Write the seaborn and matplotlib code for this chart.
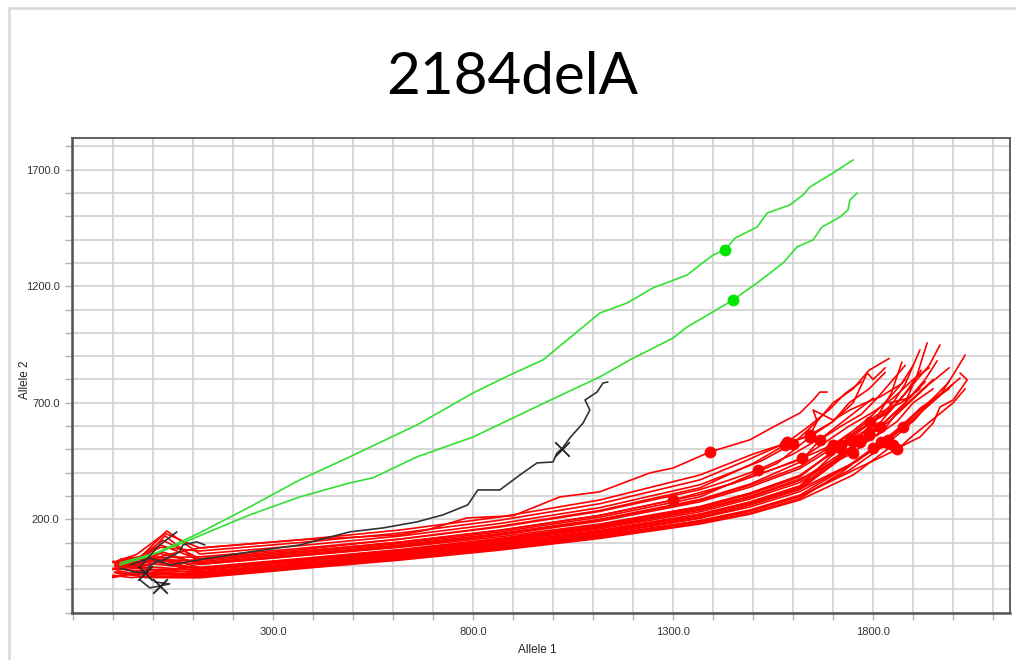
import matplotlib
matplotlib.use("Agg")
import matplotlib.pyplot as plt
import numpy as np
import pandas as pd
import seaborn as sns
from matplotlib.ticker import FixedLocator, FuncFormatter
from matplotlib.lines import Line2D

# ---------------- data ----------------
title = "2184delA"
x_label = "Allele 1"
y_label = "Allele 2"
x_tick_labels = [300, 800, 1300, 1800]
y_tick_labels = [200, 700, 1200, 1700]

red_x = [
    [-80, -20, 40, 117, 367, 617, 685, 785, 900, 1017, 1117, 1242, 1300, 1392, 1492, 1550, 1617, 1650, 1667, 1685],
    [-100, -60, -20, 117, 367, 617, 867, 1117, 1367, 1492, 1617, 1750, 1850, 1867, 1917, 1950, 1967, 2000, 2035, 2017],
    [-95, -50, 0, 117, 367, 617, 867, 1117, 1367, 1492, 1617, 1740, 1837, 1880, 1910, 1940, 1985, 2017],
    [-90, -40, 10, 117, 367, 617, 867, 1117, 1367, 1492, 1617, 1760, 1875, 1900, 1930, 1970, 2000, 2030],
    [-85, -30, 20, 117, 367, 617, 867, 1117, 1367, 1492, 1617, 1720, 1817, 1850, 1880, 1910, 1935],
    [-100, -45, 5, 117, 367, 617, 867, 1117, 1367, 1492, 1617, 1700, 1792, 1830, 1870, 1900, 1940, 1967],
    [-90, -50, 0, 117, 367, 617, 867, 1117, 1367, 1492, 1617, 1700, 1767, 1810, 1850, 1840, 1890, 1930, 1960],
    [-95, -55, -5, 117, 367, 617, 867, 1117, 1367, 1492, 1617, 1750, 1790, 1830, 1860, 1900, 1950],
    [-85, -40, 15, 117, 367, 617, 867, 1117, 1367, 1492, 1617, 1742, 1780, 1820, 1850, 1880, 1917],
    [-90, -35, 25, 117, 367, 617, 867, 1117, 1367, 1492, 1617, 1717, 1770, 1810, 1845, 1872],
    [-100, -50, 10, 117, 367, 617, 867, 1117, 1367, 1492, 1617, 1692, 1750, 1800, 1840, 1880, 1920],
    [-80, -30, 30, 117, 367, 617, 867, 1117, 1367, 1492, 1617, 1667, 1720, 1770, 1810, 1850, 1880],
    [-95, -45, 5, 117, 367, 617, 867, 1117, 1367, 1560, 1642, 1700, 1750, 1785, 1800, 1830],
    [-90, -40, 20, 117, 367, 617, 867, 1117, 1367, 1550, 1622, 1680, 1740, 1800, 1850, 1900, 1940],
    [-85, -35, 25, 117, 367, 617, 867, 1117, 1367, 1500, 1580, 1640, 1700, 1740, 1790, 1830],
    [-100, -60, 0, 117, 367, 617, 867, 1117, 1367, 1440, 1512, 1600, 1680, 1740, 1800],
    [-95, -50, 0, 117, 367, 617, 867, 1117, 1300, 1450, 1600, 1700, 1780, 1850, 1900],
    [-100, -55, -10, 117, 367, 617, 867, 1117, 1367, 1492, 1617, 1720, 1800, 1850, 1900, 1950, 1990],
    [-80, -30, 35, 117, 367, 617, 867, 1117, 1367, 1520, 1600, 1660, 1700, 1750, 1790, 1840],
    [-85, -40, 20, 117, 367, 617, 867, 1117, 1367, 1480, 1585, 1640, 1690, 1730, 1770],
    [-90, -40, 30, 117, 367, 617, 867, 1117, 1367, 1500, 1642, 1660, 1650, 1700, 1742, 1785, 1817, 1870, 1900],
    [-95, -45, 5, 117, 367, 617, 867, 1117, 1367, 1492, 1617, 1740, 1837, 1880, 1920, 1960, 2000],
    [-100, -50, 0, 117, 367, 617, 867, 1117, 1367, 1492, 1617, 1767, 1810, 1860, 1900, 1950],
    [-90, -40, 10, 117, 367, 617, 867, 1117, 1367, 1492, 1617, 1720, 1770, 1820, 1870, 1917],
    [-100, -50, 0, 117, 367, 617, 867, 1117, 1367, 1492, 1617, 1750, 1860, 1900, 1950, 2000, 2030],
    [-85, -45, 15, 117, 367, 617, 867, 1117, 1367, 1492, 1617, 1700, 1750, 1800, 1840, 1880],
    [-95, -55, -5, 117, 367, 617, 867, 1117, 1367, 1492, 1617, 1700, 1790, 1840, 1890, 1940, 1990],
    [-100, -70, -30, 117, 367, 617, 867, 1117, 1367, 1492, 1617, 1730, 1820, 1870, 1920, 1990],
    [-90, -45, 10, 117, 367, 617, 867, 1117, 1367, 1492, 1617, 1710, 1790, 1830, 1880, 1930],
]
red_y = [
    [0, 20, 50, 77, 112, 133, 154, 206, 215, 296, 318, 399, 420, 489, 541, 596, 656, 712, 746, 746],
    [-45, -35, -50, -51, -12, 25, 68, 118, 180, 222, 283, 390, 519, 510, 553, 613, 682, 712, 798, 828],
    [-30, -40, -35, -45, -6, 31, 75, 126, 190, 235, 298, 410, 528, 590, 640, 700, 760, 806],
    [-20, -35, -25, -38, 0, 38, 82, 134, 205, 262, 330, 450, 596, 620, 680, 740, 820, 905],
    [-10, -25, -15, -32, 7, 44, 89, 143, 211, 261, 328, 460, 596, 650, 700, 820, 957],
    [-15, -5, -20, -25, 13, 51, 96, 151, 222, 274, 343, 480, 618, 650, 720, 780, 860, 948],
    [0, -10, -5, -19, 19, 57, 104, 159, 232, 287, 358, 450, 541, 600, 680, 700, 720, 800, 880],
    [5, -5, 10, -13, 25, 64, 111, 168, 243, 299, 373, 485, 540, 590, 660, 720, 800],
    [10, 0, 40, -6, 31, 70, 118, 176, 253, 312, 388, 541, 580, 650, 700, 780, 927],
    [15, 5, 60, 7, 44, 80, 125, 180, 255, 312, 388, 506, 560, 640, 740, 875],
    [20, 10, 25, 7, 44, 83, 132, 192, 275, 338, 418, 498, 560, 620, 660, 740, 840],
    [25, 15, 130, 13, 50, 90, 139, 200, 285, 351, 445, 541, 600, 650, 720, 800, 860],
    [10, 25, 30, 19, 56, 96, 146, 209, 296, 440, 553, 620, 700, 828, 800, 850],
    [20, 30, 90, 26, 62, 102, 153, 217, 306, 415, 463, 530, 600, 660, 720, 800, 850],
    [25, 35, 110, 32, 69, 115, 170, 238, 335, 440, 519, 560, 620, 700, 760, 830],
    [15, 30, 35, 39, 75, 115, 167, 234, 327, 368, 412, 480, 560, 640, 720],
    [0, 15, 20, 26, 62, 102, 153, 217, 283, 354, 445, 520, 600, 680, 780],
    [-40, -50, -45, -48, -10, 28, 71, 121, 184, 227, 289, 400, 506, 560, 640, 720, 790],
    [30, 40, 150, 51, 87, 128, 182, 250, 348, 450, 525, 620, 700, 760, 840, 890],
    [20, 35, 80, 64, 100, 141, 196, 267, 369, 450, 530, 600, 670, 740, 790],
    [20, 50, 140, 77, 112, 154, 210, 283, 390, 480, 560, 620, 669, 626, 669, 703, 725, 780, 860],
    [-25, -40, -30, -36, 3, 40, 85, 138, 205, 253, 319, 430, 540, 600, 660, 720, 780],
    [-10, -20, -15, -15, 20, 55, 99, 152, 222, 274, 343, 530, 560, 620, 700, 760],
    [0, -10, 15, -9, 29, 68, 115, 172, 249, 307, 382, 520, 600, 660, 700, 760],
    [-48, -30, -40, -32, 5, 40, 80, 128, 190, 235, 298, 410, 500, 560, 630, 700, 760],
    [15, 5, 55, 10, 48, 87, 136, 197, 281, 346, 427, 520, 580, 650, 720, 800],
    [-5, 5, 35, -15, 23, 61, 108, 164, 239, 294, 367, 460, 560, 620, 700, 780, 850],
    [-50, -40, -30, -42, -3, 34, 78, 130, 195, 240, 304, 420, 530, 600, 680, 760],
    [-5, 10, 20, -28, 10, 48, 93, 147, 217, 268, 336, 450, 570, 620, 700, 790],
]
# x position (on each red curve) of its round end-point marker
red_dot_x = [1392, 1850, 1837, 1875, 1817, 1792, 1767, 1750, 1742, 1717, 1692, 1667,
             1642, 1622, 1580, 1512, 1300, 1800, 1600, 1585, 1642, 1837, 1767, 1720,
             1860, 1700, 1790, 1820, 1790]

green_x = [
    [-82, -8, 80, 117, 242, 367, 492, 660, 800, 892, 975, 1117, 1185, 1250, 1335, 1367,
     1400, 1430, 1455, 1510, 1535, 1592, 1625, 1642, 1700, 1750],
    [-82, 18, 80, 242, 367, 492, 550, 660, 800, 900, 1010, 1117, 1192, 1300, 1335, 1450,
     1510, 1575, 1610, 1650, 1672, 1717, 1737, 1742, 1760],
]
green_y = [
    [4, 43, 112, 142, 253, 369, 468, 605, 742, 819, 884, 1085, 1128, 1193, 1248, 1291,
     1334, 1356, 1407, 1454, 1514, 1549, 1592, 1626, 1686, 1742],
    [13, 60, 103, 219, 296, 356, 378, 468, 553, 635, 725, 811, 884, 978, 1025, 1141,
     1214, 1300, 1369, 1399, 1454, 1497, 1527, 1570, 1600],
]
green_dot_x = [1430, 1450]

black_x = [
    [-57, -8, 42, 142, 242, 367, 492, 575, 660, 725, 787, 812, 867, 917, 960, 1000, 1010,
     1022, 1042, 1075, 1092, 1080, 1110, 1125, 1137],
    [-82, -45, -20, -8, 17],
    [-32, -8, 17, 42, 5],
    [-30, -8, 17, 40, 60],
    [20, 67, 75, 110, 130],
]
black_y = [
    [4, 34, 4, 34, 60, 90, 146, 163, 189, 219, 262, 326, 326, 390, 442, 446, 485,
     502, 549, 613, 669, 712, 746, 785, 789],
    [-9, -26, -30, 0, 26],
    [-60, -94, -86, -77, -69],
    [0, 43, 90, 120, 146],
    [20, 60, 90, 103, 90],
]
black_mark_x = [1022, -20, 17, None, None]

# ---------------- figure ----------------
sns.set_theme(style="white")
plt.rcParams["font.family"] = ["Liberation Sans", "DejaVu Sans"]

fig = plt.figure(figsize=(10.16, 6.6), dpi=100)
ax = fig.add_axes([0.0709, 0.0712, 0.9232, 0.7197])


def to_long(xs_list, ys_list):
    rows = []
    for c, (xs, ys) in enumerate(zip(xs_list, ys_list)):
        for k, (xv, yv) in enumerate(zip(xs, ys)):
            rows.append({"curve": c, "cycle": k, "x": xv, "y": yv})
    return pd.DataFrame(rows)


def marker_points(xs_list, ys_list, mark_x):
    px, py = [], []
    for xs, ys, mx in zip(xs_list, ys_list, mark_x):
        if mx is None:
            continue
        k = xs.index(mx)
        px.append(xs[k])
        py.append(ys[k])
    return pd.DataFrame({"x": px, "y": py})


df_red = to_long(red_x, red_y)
df_green = to_long(green_x, green_y)
df_black = to_long(black_x, black_y)

sns.lineplot(data=df_red, x="x", y="y", units="curve", estimator=None, sort=False,
             color="#ff0000", lw=1.2, ax=ax, legend=False, zorder=3)
sns.lineplot(data=df_green, x="x", y="y", units="curve", estimator=None, sort=False,
             color="#33e033", lw=1.2, ax=ax, legend=False, zorder=4)
sns.lineplot(data=df_black, x="x", y="y", units="curve", estimator=None, sort=False,
             color="#333333", lw=1.2, ax=ax, legend=False, zorder=5)

red_dots = marker_points(red_x, red_y, red_dot_x)
green_dots = marker_points(green_x, green_y, green_dot_x)
black_marks = marker_points(black_x, black_y, black_mark_x)

sns.scatterplot(data=red_dots, x="x", y="y", color="#ff0000", edgecolor="#ff0000",
                s=62, ax=ax, legend=False, zorder=6)
sns.scatterplot(data=green_dots, x="x", y="y", color="#00e600", edgecolor="#00e600",
                s=62, ax=ax, legend=False, zorder=6)
sns.scatterplot(data=black_marks, x="x", y="y", color="#222222", marker="x",
                s=110, linewidth=1.3, ax=ax, legend=False, zorder=7)

# ---------------- axes styling ----------------
ax.set_xlim(-202, 2142)
ax.set_ylim(-202, 1836)

ax.xaxis.set_major_locator(FixedLocator(list(range(-200, 2200, 100))))
ax.yaxis.set_major_locator(FixedLocator(list(range(-200, 1900, 100))))
ax.xaxis.set_major_formatter(FuncFormatter(
    lambda v, p: f"{v:.1f}" if int(round(v)) in x_tick_labels else ""))
ax.yaxis.set_major_formatter(FuncFormatter(
    lambda v, p: f"{v:.1f}" if int(round(v)) in y_tick_labels else ""))

ax.grid(True, color="#d4d4d4", lw=1.3, zorder=0)
ax.set_axisbelow(True)
ax.tick_params(axis="both", which="major", direction="out", length=5, width=1.0,
               color="#b0b0b0", labelsize=8, labelcolor="#333333", pad=4)
ax.tick_params(axis="y", left=True)
ax.tick_params(axis="x", bottom=True, pad=5)

for side in ["left", "bottom"]:
    ax.spines[side].set_color("#555555")
    ax.spines[side].set_linewidth(1.8)
for side in ["top", "right"]:
    ax.spines[side].set_color("#555555")
    ax.spines[side].set_linewidth(1.3)

ax.set_xlabel("")
ax.set_ylabel("")

fig.text(0.529, 0.015, x_label, ha="center", va="center", fontsize=8.5, color="#222222")
fig.text(0.025, 0.425, y_label, ha="center", va="center", fontsize=8.5,
         rotation=90, color="#222222")
fig.text(0.504, 0.882, title, ha="center", va="center", fontsize=42,
         family=["Lato", "DejaVu Sans"], color="#000000")

# light gray outer frame (left and top edges)
fig.add_artist(Line2D([8.5 / 1016, 8.5 / 1016], [0, 1 - 8 / 660], color="#d8d8d8",
                      lw=1.8, transform=fig.transFigure))
fig.add_artist(Line2D([8.5 / 1016, 1], [1 - 8 / 660, 1 - 8 / 660], color="#d8d8d8",
                      lw=1.8, transform=fig.transFigure))

fig.savefig("out.png", dpi=100, facecolor="white")
